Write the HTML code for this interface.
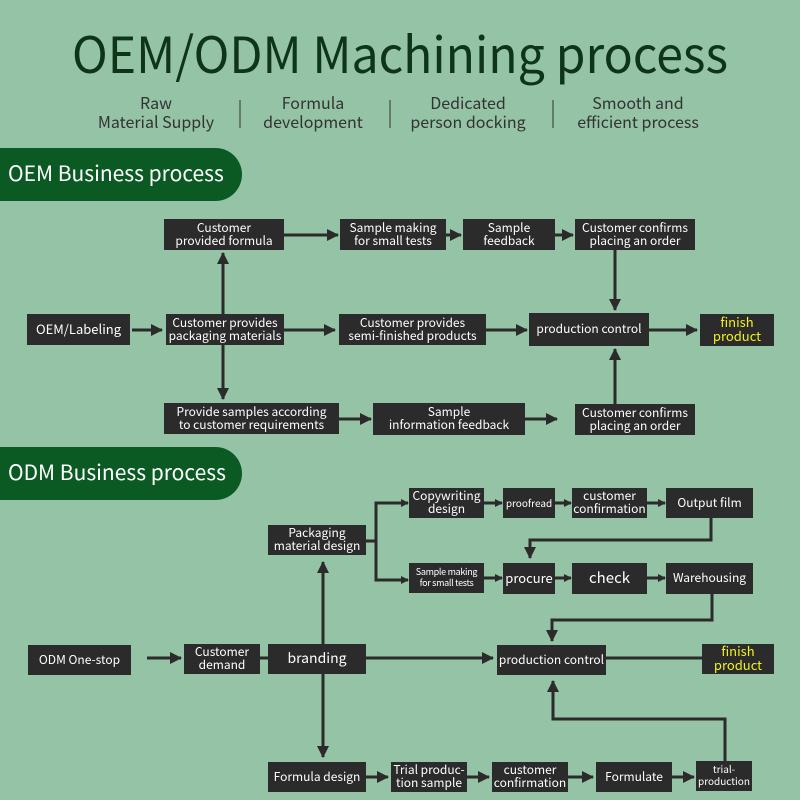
<!DOCTYPE html>
<html><head><meta charset="utf-8"><style>
body{margin:0}
#c{position:relative;width:800px;height:800px;background:#94c3a5;overflow:hidden;font-family:"Noto Sans CJK SC","Liberation Sans",sans-serif}
.b{position:absolute;background:#2b2b2b;color:#fff;display:flex;align-items:center;justify-content:center;text-align:center;font-size:12px;line-height:13px;white-space:nowrap;padding-bottom:2px;box-sizing:border-box}
.y{color:#f2f21e;font-size:13px;line-height:14px}
.ban{position:absolute;left:0;width:242px;height:53px;background:#0b5a24;border-radius:0 27px 27px 0;color:#fff;font-size:21px;line-height:50px;padding-left:8px;box-sizing:border-box}
svg{position:absolute;left:0;top:0}
</style></head><body><div id="c">
<svg width="800" height="800">
<defs><marker id="a" markerWidth="8" markerHeight="8" refX="7" refY="4" orient="auto" markerUnits="userSpaceOnUse"><path d="M0,0L8,4L0,8z" fill="#2b2b2b"/></marker>
<marker id="m" markerWidth="12" markerHeight="12" refX="11" refY="6" orient="auto" markerUnits="userSpaceOnUse"><path d="M0,0L12,6L0,12z" fill="#2b2b2b"/></marker></defs>
<text x="72" y="73" textLength="656" lengthAdjust="spacingAndGlyphs" font-size="50" fill="#0f3519" font-family="Noto Sans CJK SC,sans-serif">OEM/ODM Machining process</text>
<g font-size="16" fill="#333" text-anchor="middle" font-family="Noto Sans CJK SC,sans-serif">
<text x="156" y="109">Raw</text><text x="156" y="128">Material Supply</text>
<text x="313" y="109">Formula</text><text x="313" y="128">development</text>
<text x="468" y="109">Dedicated</text><text x="468" y="128">person docking</text>
<text x="638" y="109">Smooth and</text><text x="638" y="128">efficient process</text>
</g>
<g stroke="#333" stroke-width="1"><line x1="240" y1="100" x2="240" y2="128"/><line x1="390" y1="100" x2="390" y2="128"/><line x1="553" y1="100" x2="553" y2="128"/></g>
<g stroke="#2b2b2b" stroke-width="3" fill="none">
<line x1="284" y1="235" x2="338" y2="235" marker-end="url(#m)"/>
<line x1="446" y1="235" x2="461" y2="235" marker-end="url(#m)"/>
<line x1="555" y1="235" x2="573" y2="235" marker-end="url(#m)"/>
<line x1="615" y1="250" x2="615" y2="310" marker-end="url(#m)"/>
<line x1="132" y1="330" x2="162" y2="330" marker-end="url(#m)"/>
<line x1="284" y1="330" x2="335" y2="330" marker-end="url(#m)"/>
<line x1="486" y1="330" x2="527" y2="330" marker-end="url(#m)"/>
<line x1="649" y1="330" x2="697" y2="330" marker-end="url(#m)"/>
<line x1="223" y1="314" x2="223" y2="253" marker-end="url(#m)"/>
<line x1="223" y1="345" x2="223" y2="399" marker-end="url(#m)"/>
<line x1="339" y1="419" x2="371" y2="419" marker-end="url(#m)"/>
<line x1="525" y1="419" x2="557" y2="419" marker-end="url(#m)"/>
<line x1="615" y1="404" x2="615" y2="349" marker-end="url(#m)"/>
<polyline points="366,541 376,541"/>
<polyline points="407,503 376,503 376,580 407,580"/>
<line x1="376" y1="503" x2="408" y2="503" marker-end="url(#a)"/>
<line x1="376" y1="580" x2="408" y2="580" marker-end="url(#a)"/>
<line x1="484" y1="503" x2="502" y2="503" marker-end="url(#a)"/>
<line x1="555" y1="503" x2="571" y2="503" marker-end="url(#a)"/>
<line x1="647" y1="503" x2="665" y2="503" marker-end="url(#a)"/>
<line x1="484" y1="578" x2="502" y2="578" marker-end="url(#a)"/>
<line x1="555" y1="578" x2="571" y2="578" marker-end="url(#a)"/>
<line x1="647" y1="578" x2="665" y2="578" marker-end="url(#a)"/>
<polyline points="711,518 711,540 530,540 530,558" marker-end="url(#m)"/>
<polyline points="712,594 712,620 552,620 552,641" marker-end="url(#m)"/>
<line x1="147" y1="658" x2="181" y2="658" marker-end="url(#m)"/>
<line x1="260" y1="658" x2="268" y2="658"/>
<line x1="366" y1="658" x2="493" y2="658" marker-end="url(#m)"/>
<line x1="606" y1="658" x2="702" y2="658"/>
<line x1="323" y1="644" x2="323" y2="562" marker-end="url(#m)"/>
<line x1="323" y1="674" x2="323" y2="757" marker-end="url(#m)"/>
<line x1="366" y1="777" x2="388" y2="777" marker-end="url(#m)"/>
<line x1="467" y1="777" x2="489" y2="777" marker-end="url(#m)"/>
<line x1="568" y1="777" x2="593" y2="777" marker-end="url(#m)"/>
<line x1="672" y1="777" x2="694" y2="777" marker-end="url(#m)"/>
<polyline points="725,761 725,719 553,719 553,681" marker-end="url(#m)"/>
</g>
</svg>
<div class="ban" style="top:148px">OEM Business process</div>
<div class="ban" style="top:447px">ODM Business process</div>

<div class="b" style="left:164px;top:219px;width:120px;height:31px">Customer<br>provided formula</div>
<div class="b" style="left:340px;top:219px;width:106px;height:31px">Sample making<br>for small tests</div>
<div class="b" style="left:463px;top:219px;width:92px;height:31px">Sample<br>feedback</div>
<div class="b" style="left:575px;top:219px;width:120px;height:31px">Customer confirms<br>placing an order</div>
<div class="b" style="left:27px;top:314px;width:103px;height:31px;font-size:13px">OEM/Labeling</div>
<div class="b" style="left:166px;top:314px;width:118px;height:31px">Customer provides<br>packaging materials</div>
<div class="b" style="left:339px;top:314px;width:147px;height:31px">Customer provides<br>semi-finished products</div>
<div class="b" style="left:529px;top:313px;width:120px;height:33px">production control</div>
<div class="b y" style="left:700px;top:314px;width:74px;height:32px">finish<br>product</div>
<div class="b" style="left:164px;top:403px;width:175px;height:31px">Provide samples according<br>to customer requirements</div>
<div class="b" style="left:373px;top:403px;width:152px;height:32px">Sample<br>information feedback</div>
<div class="b" style="left:575px;top:404px;width:120px;height:31px">Customer confirms<br>placing an order</div>

<div class="b" style="left:409px;top:488px;width:75px;height:30px">Copywriting<br>design</div>
<div class="b" style="left:503px;top:488px;width:52px;height:30px;font-size:10px">proofread</div>
<div class="b" style="left:572px;top:488px;width:75px;height:30px">customer<br>confirmation</div>
<div class="b" style="left:666px;top:488px;width:87px;height:30px">Output film</div>
<div class="b" style="left:268px;top:525px;width:98px;height:30px">Packaging<br>material design</div>
<div class="b" style="left:409px;top:563px;width:75px;height:30px;font-size:9px;line-height:11px;letter-spacing:-0.3px">Sample making<br>for small tests</div>
<div class="b" style="left:503px;top:563px;width:52px;height:31px;font-size:13px">procure</div>
<div class="b" style="left:572px;top:563px;width:75px;height:31px;font-size:15px">check</div>
<div class="b" style="left:666px;top:563px;width:87px;height:31px">Warehousing</div>
<div class="b" style="left:28px;top:645px;width:103px;height:30px">ODM One-stop</div>
<div class="b" style="left:184px;top:644px;width:76px;height:30px">Customer<br>demand</div>
<div class="b" style="left:268px;top:644px;width:98px;height:30px;font-size:14px">branding</div>
<div class="b" style="left:497px;top:645px;width:109px;height:30px">production control</div>
<div class="b y" style="left:702px;top:644px;width:72px;height:30px">finish<br>product</div>
<div class="b" style="left:268px;top:762px;width:98px;height:30px">Formula design</div>
<div class="b" style="left:391px;top:762px;width:76px;height:30px">Trial produc-<br>tion sample</div>
<div class="b" style="left:492px;top:762px;width:76px;height:30px">customer<br>confirmation</div>
<div class="b" style="left:596px;top:762px;width:76px;height:30px">Formulate</div>
<div class="b" style="left:696px;top:761px;width:56px;height:30px;font-size:10px;line-height:12px">trial-<br>production</div>
</div></body></html>
